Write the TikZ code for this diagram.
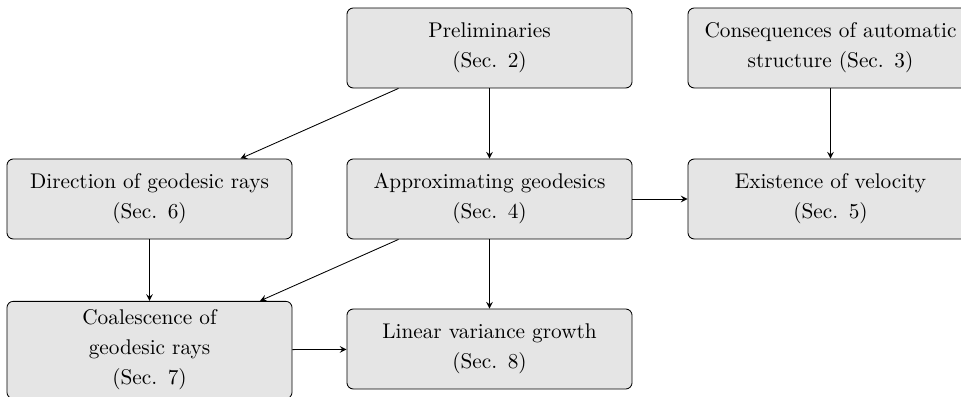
\documentclass[tikz,border=0pt]{standalone}
\tikzset{
  secbox/.style={draw, rectangle, rounded corners=3pt, fill=gray!20,
    text width=121pt, inner xsep=6.5pt, inner ysep=4pt, minimum height=37.6pt,
    align=center, font={\fontsize{10}{14.1}\selectfont\hyphenpenalty=10000\relax}},
  dep/.style={-stealth}
}
\begin{document}
\begin{tikzpicture}[x=0.47pt, y=-0.47pt]
	\useasboundingbox (0,0) rectangle (961,397);
	\clip (0,0) rectangle (961,397);
	
	\node[secbox] (prelim) at (489.5,48) {Preliminaries\\(Sec. 2)};
	\node[secbox] (conseq) at (830.5,48) {Consequences of automatic structure (Sec. 3)};
	
	\node[secbox] (direct) at (149.5,199) {Direction of geodesic rays\\(Sec. 6)};
	\node[secbox] (approx) at (489.5,199) {Approximating geodesics\\(Sec. 4)};
	\node[secbox] (exist) at (830.5,199) {Existence of velocity\\(Sec. 5)};
	
	\node[secbox] (coal) at (149.5,350) {Coalescence of geodesic rays\\(Sec. 7)};
	\node[secbox] (linear) at (489.5,349) {Linear variance growth\\(Sec. 8)};
	
	\draw[dep] (prelim) -- (direct);
	\draw[dep] (prelim) -- (approx);
	\draw[dep] (conseq) -- (exist);
	\draw[dep] (approx) -- (exist);
	\draw[dep] (direct) -- (coal);
	\draw[dep] (approx) -- (coal);
	\draw[dep] (approx) -- (linear);
	\draw[dep] (coal) -- (linear);
\end{tikzpicture}
\end{document}
